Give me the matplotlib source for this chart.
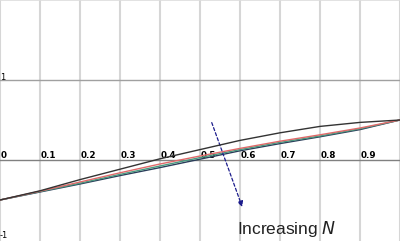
import matplotlib
matplotlib.use("Agg")
import matplotlib.pyplot as plt

# values
x = [0, 0.1, 0.2, 0.3, 0.4, 0.5, 0.6, 0.7, 0.8, 0.9, 1.0]
y_black = [-0.5, -0.385, -0.245, -0.115, 0.015, 0.13, 0.245, 0.34, 0.42, 0.47, 0.5]
y_red = [-0.5, -0.39, -0.275, -0.16, -0.05, 0.05, 0.145, 0.235, 0.315, 0.40, 0.5]
y_green = [-0.5, -0.395, -0.29, -0.18, -0.075, 0.03, 0.13, 0.22, 0.30, 0.39, 0.5]
y_blue = [-0.5, -0.40, -0.30, -0.195, -0.095, 0.01, 0.115, 0.205, 0.29, 0.38, 0.5]

x_ticks = [0, 0.1, 0.2, 0.3, 0.4, 0.5, 0.6, 0.7, 0.8, 0.9]
x_labels = ["0", "0.1", "0.2", "0.3", "0.4", "0.5", "0.6", "0.7", "0.8", "0.9"]
y_ticks = [1, -1]
y_labels = ["1", "-1"]

fig = plt.figure(figsize=(4, 2.41), dpi=100)
ax = fig.add_axes([0, 0, 1, 1])
ax.set_xlim(0, 1)
ax.set_ylim(-1.0125, 2)
ax.axis("off")

# grid
for gx in x_ticks + [1.0]:
    ax.axvline(gx, color="#d6d6d6", lw=1.5, zorder=0)
ax.axhline(2, color="#dddddd", lw=1.2, zorder=0)
ax.axhline(1, color="#a0a0a0", lw=1.0, zorder=1)
ax.axhline(0, color="#808080", lw=1.0, zorder=1)

for t, lab in zip(x_ticks, x_labels):
    ax.text(t + 0.001, 0.0, lab, fontsize=6.3, fontweight="bold",
            ha="left", va="bottom", color="black")
ax.text(0.0, 1.03, y_labels[0], fontsize=6, ha="left", va="center")
ax.text(0.0, -0.95, y_labels[1], fontsize=6, ha="left", va="center")

# curves
ax.plot(x, y_blue, color="#2a3d5a", lw=1.0, zorder=3)
ax.plot(x, y_green, color="#4a9a80", lw=1.0, zorder=3)
ax.plot(x, y_red, color="#e06a6a", lw=1.0, zorder=4)
ax.plot(x, y_black, color="#333333", lw=1.0, zorder=4)

# arrow + label
ax.annotate("", xy=(0.608, -0.62), xytext=(0.527, 0.5),
            arrowprops=dict(arrowstyle="-|>", color="#1c1c8c", lw=0.9,
                            linestyle=(0, (2.5, 1.8)), mutation_scale=8))
ax.text(0.592, -0.86, r"Increasing $\it{N}$", fontsize=12.5,
        family="Liberation Sans", color="#222222", ha="left", va="center")

fig.savefig("out.png", dpi=100)
